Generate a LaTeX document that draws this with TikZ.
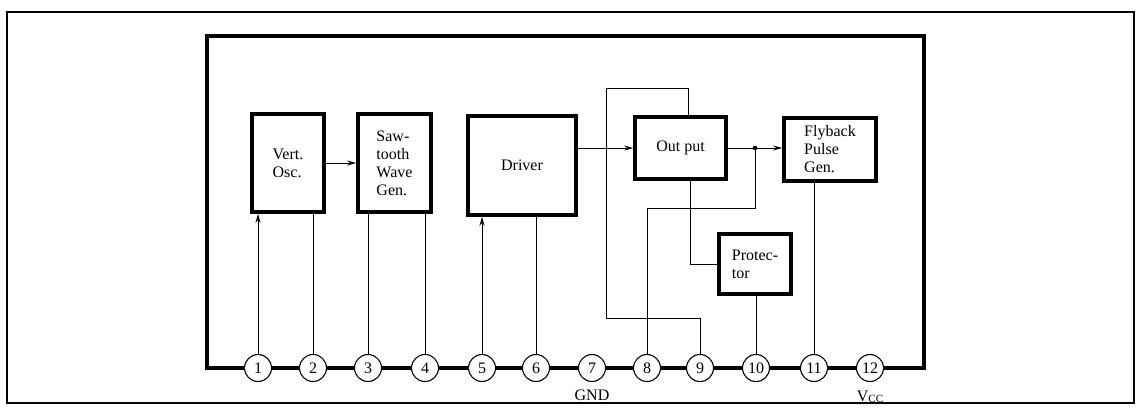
\documentclass[tikz,border=0pt]{standalone}
\usepackage{fontspec}
\setmainfont{Liberation Serif}
\usetikzlibrary{arrows.meta,calc}
\begin{document}
\begin{tikzpicture}[x=1pt,y=-1pt,
  block/.style={draw,line width=3.5pt,inner sep=0pt,align=left,
    font=\fontsize{16}{18}\selectfont},
  pin/.style={draw,circle,line width=1.1pt,fill=white,inner sep=0pt,
    minimum size=27pt,font=\fontsize{16}{16}\selectfont},
  wire/.style={line width=1pt},
  arr/.style={wire,-{Stealth[length=9pt,width=5pt]}},
  lbl/.style={font=\fontsize{16}{16}\selectfont,inner sep=0pt}]
\useasboundingbox (0,0) rectangle (1136,408);
% outer frame
\draw[line width=1.3pt] (7,12) rectangle (1134,403);
% chip body
\draw[line width=3.5pt] (207,36) rectangle (924,368);
% blocks
\node[block,minimum width=72pt,minimum height=98pt] (vert) at (288,163) {Vert.\\Osc.};
\node[block,minimum width=73pt,minimum height=98pt] (saw) at (394.5,163) {Saw-\\tooth\\Wave\\Gen.};
\node[block,minimum width=108pt,minimum height=99pt] (driver) at (522,165.5) {Driver};
\node[block,minimum width=91pt,minimum height=62pt] (output) at (680.5,148) {Out put};
\node[block,minimum width=92pt,minimum height=63pt] (flyback) at (830,149.5) {Flyback\\Pulse\\Gen.};
\node[block,minimum width=72pt,minimum height=60pt] (prot) at (755,264) {Protec-\\tor};
% pins
\foreach \i/\x in {1/258,2/313,3/368,4/425,5/482,6/536,7/592,8/647,9/700,10/756,11/814,12/870}
  \node[pin] (p\i) at (\x,368) {\i};
\node[lbl] (gnd) at (592,395) {GND};
\node[lbl] (vcc) at (870,397) {V\raisebox{-1.5pt}{\fontsize{11}{11}\selectfont CC}};
% waypoints
\coordinate (j) at (755,148);
\coordinate (jlow) at (755,208);
\coordinate (loopL) at (606,318);
\coordinate (loopT) at (606,88);
% connectors
\draw[arr] (vert) -- (saw);
\draw[arr] (driver.east |- output.west) -- (output.west);
\draw[arr] (output.east) -- (flyback.west |- output.east);
\fill (j) circle (2.3pt);
\draw[arr] (p1) -- (p1 |- vert.south);
\draw[wire] (p2) -- (p2 |- vert.south);
\draw[wire] (p3) -- (p3 |- saw.south);
\draw[wire] (p4) -- (p4 |- saw.south);
\draw[arr] (p5) -- (p5 |- driver.south);
\draw[wire] (p6) -- (p6 |- driver.south);
\draw[wire] (p8) |- (jlow) -- (j);
\draw[wire] (p9) |- (loopL) -- (loopT) -| ([xshift=7.5pt]output.north);
\draw[wire] ([xshift=9.5pt]output.south) |- (prot.west);
\draw[wire] (p10) -- (p10 |- prot.south);
\draw[wire] (p11) -- (p11 |- flyback.south);
\end{tikzpicture}
\end{document}
